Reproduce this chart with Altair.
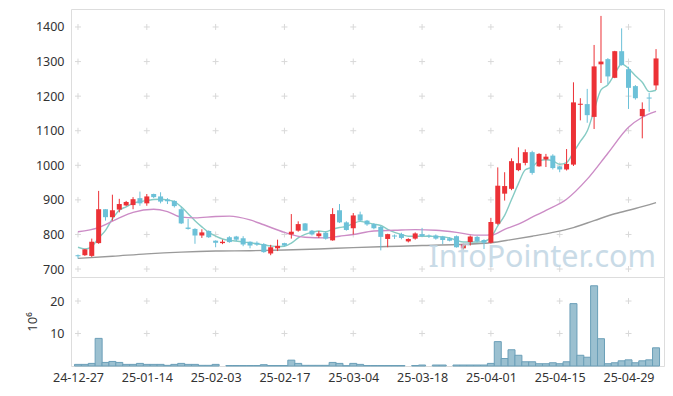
import altair as alt
import pandas as pd

# ---------------- data ----------------
dates = [
    "24-12-27", "24-12-30", "25-01-02", "25-01-03", "25-01-06", "25-01-07", "25-01-08", "25-01-09",
    "25-01-10", "25-01-13", "25-01-14", "25-01-15", "25-01-16", "25-01-17", "25-01-20", "25-01-21",
    "25-01-22", "25-01-23", "25-01-24", "25-01-31", "25-02-03", "25-02-04", "25-02-05", "25-02-06",
    "25-02-07", "25-02-10", "25-02-11", "25-02-12", "25-02-13", "25-02-14", "25-02-17", "25-02-18",
    "25-02-19", "25-02-20", "25-02-21", "25-02-24", "25-02-25", "25-02-26", "25-02-27", "25-02-28",
    "25-03-04", "25-03-05", "25-03-06", "25-03-07", "25-03-10", "25-03-11", "25-03-12", "25-03-13",
    "25-03-14", "25-03-17", "25-03-18", "25-03-19", "25-03-20", "25-03-21", "25-03-24", "25-03-25",
    "25-03-26", "25-03-27", "25-03-28", "25-03-31", "25-04-01", "25-04-02", "25-04-03", "25-04-04",
    "25-04-07", "25-04-08", "25-04-09", "25-04-10", "25-04-11", "25-04-14", "25-04-15", "25-04-16",
    "25-04-17", "25-04-18", "25-04-21", "25-04-22", "25-04-23", "25-04-24", "25-04-25", "25-04-28",
    "25-04-29", "25-04-30", "25-05-02", "25-05-07", "25-05-08",
]
opens = [740, 740, 738, 775, 873, 850, 872, 884, 885, 905, 890, 917, 910, 901, 897, 873, 820, 816, 797, 810,
         782, 775, 792, 794, 789, 779, 776, 772, 745, 760, 775, 800, 811, 832, 811, 795, 805, 783, 870, 835,
         818, 858, 840, 830, 822, 787, 797, 801, 780, 788, 801, 797, 797, 794, 789, 795, 760, 778, 793, 784,
         776, 831, 918, 932, 986, 1007, 1038, 997, 1017, 1028, 997, 988, 1002, 1175, 1177, 1140, 1292, 1307, 1253, 1330,
         1278, 1229, 1142, 1196, 1231]
highs = [742, 758, 788, 926, 873, 915, 903, 897, 908, 924, 917, 918, 922, 905, 899, 880, 845, 818, 815, 812,
         783, 785, 795, 796, 795, 780, 780, 775, 770, 785, 776, 859, 838, 833, 813, 810, 808, 876, 888, 838,
         862, 866, 842, 833, 825, 802, 800, 805, 789, 806, 819, 800, 800, 796, 792, 797, 773, 797, 796, 786,
         848, 994, 980, 1020, 1052, 1046, 1042, 1035, 1033, 1032, 998, 1047, 1240, 1194, 1221, 1348, 1432, 1310, 1331, 1396,
         1285, 1232, 1182, 1209, 1336]
lows = [730, 738, 735, 773, 840, 840, 864, 882, 873, 883, 883, 905, 890, 888, 878, 830, 814, 773, 790, 790,
        763, 772, 776, 780, 766, 760, 767, 747, 740, 752, 766, 788, 808, 810, 797, 790, 785, 782, 833, 811,
        800, 838, 825, 815, 754, 763, 787, 786, 777, 785, 793, 790, 785, 772, 780, 762, 757, 768, 777, 758,
        774, 828, 898, 928, 983, 1000, 973, 996, 995, 988, 980, 985, 998, 1130, 1123, 1105, 1238, 1235, 1252, 1288,
        1163, 1190, 1078, 1155, 1218]
closes = [737, 757, 779, 873, 850, 870, 888, 894, 902, 890, 910, 908, 895, 896, 882, 832, 816, 797, 806, 792,
          776, 779, 778, 785, 771, 768, 771, 749, 763, 767, 768, 808, 830, 811, 800, 803, 788, 859, 835, 813,
          855, 840, 829, 818, 793, 801, 794, 790, 787, 803, 795, 795, 788, 784, 782, 763, 771, 794, 780, 776,
          836, 941, 940, 1012, 1006, 1038, 978, 1033, 1025, 992, 988, 1004, 1182, 1178, 1145, 1286, 1300, 1257, 1330, 1290,
          1224, 1194, 1163, 1193, 1309]
volumes = [0.5, 0.5, 0.8, 8.5, 1.1, 1.4, 1.1, 0.5, 0.5, 0.8, 0.5, 0.5, 0.5, 0.2, 0.5, 0.8, 0.5, 0.5, 0.2, 0.2,
           0.5, 0.0, 0.15, 0.15, 0.15, 0.15, 0.15, 0.4, 0.15, 0.15, 0.15, 1.8, 0.8, 0.2, 0.2, 0.2, 0.2, 1.1, 0.8, 0.1,
           0.8, 0.5, 0.15, 0.15, 0.15, 0.15, 0.15, 0.15, 0.0, 0.15, 0.3, 0.0, 0.3, 0.3, 0.0, 0.3, 0.3, 0.3, 0.3, 0.3,
           0.8, 7.5, 2.3, 5.0, 3.3, 1.3, 1.3, 0.7, 0.7, 1.0, 0.7, 1.3, 19.2, 3.3, 2.7, 24.7, 8.4, 0.7, 1.0, 1.6,
           1.9, 1.0, 1.6, 1.9, 5.6]
ma5 = [763, 758, 765, 790, 812, 845, 870, 880, 890, 895, 898, 901, 902, 900, 895, 880, 860, 840, 822, 806,
       795, 787, 783, 781, 778, 776, 773, 770, 767, 765, 766, 775, 790, 800, 806, 810, 808, 815, 820, 823,
       832, 838, 834, 830, 826, 815, 806, 800, 795, 795, 795, 795, 794, 793, 790, 783, 778, 778, 778, 780,
       791, 825, 855, 901, 947, 987, 995, 1013, 1016, 1013, 1003, 1008, 1038, 1069, 1099, 1159, 1218, 1233, 1264, 1293,
       1280, 1259, 1240, 1213, 1217]
ma20_idx = [0, 3, 6, 8, 11, 13, 15, 17, 20, 22, 25, 27, 30, 33, 36, 38, 40, 43, 46, 49, 52, 55, 58, 60,
            62, 64, 66, 68, 71, 74, 77, 80, 82, 84]
ma20_val = [808, 820, 848, 864, 873, 866, 850, 848, 852, 853, 842, 828, 806, 792, 790, 795, 800, 810, 812, 814,
            812, 806, 798, 798, 815, 830, 850, 870, 902, 960, 1035, 1110, 1139, 1156]
ma60_idx = [0, 5, 10, 15, 20, 25, 30, 35, 40, 45, 50, 55, 60, 63, 66, 69, 72, 75, 78, 81, 84]
ma60_val = [731, 737, 744, 749, 752, 753, 755, 758, 762, 765, 768, 771, 776, 785, 795, 806, 820, 840, 860, 875, 892]

price_ticks = [700, 800, 900, 1000, 1100, 1200, 1300, 1400]
vol_ticks = [10, 20]
label_idx = [0, 10, 20, 30, 40, 50, 60, 70, 80]

# ---------------- styling ----------------
RED = "#ec3136"
BLUE = "#6cc1d8"
TEXT = "#333333"
FONT = "Noto Sans"
GRIDC = "#d9d9d9"
W = 593
H_PRICE = 268
H_VOL = 89
X_DOMAIN = [-0.29, 84.43]

df = pd.DataFrame({
    "i": list(range(len(dates))), "date": dates, "open": opens, "high": highs,
    "low": lows, "close": closes, "vol": volumes,
})

ma_df = pd.concat([
    pd.DataFrame({"i": list(range(len(ma5))), "v": ma5, "s": "MA5"}),
    pd.DataFrame({"i": ma20_idx, "v": ma20_val, "s": "MA20"}),
    pd.DataFrame({"i": ma60_idx, "v": ma60_val, "s": "MA60"}),
])

price_grid = pd.DataFrame([(x, y) for x in label_idx for y in price_ticks], columns=["i", "y"])
vol_grid = pd.DataFrame([(x, y) for x in label_idx for y in vol_ticks], columns=["i", "y"])

xscale = alt.Scale(domain=X_DOMAIN, nice=False, zero=False)
x_plain = alt.X("i:Q", scale=xscale, axis=None)
yscale = alt.Scale(domain=[677, 1452], nice=False, zero=False)
vscale = alt.Scale(domain=[0, 27.4], nice=False, zero=True)

price_axis = alt.Axis(values=price_ticks, format="d", grid=False, ticks=False, domain=False,
                      labelFontSize=12.5, labelColor=TEXT, labelPadding=7, minExtent=57,
                      labelFont=FONT, labelOverlap=False, title=None)

cross_shape = "M-1,0L1,0M0,-1L0,1"
candle_color = alt.condition("datum.close >= datum.open", alt.value(RED), alt.value(BLUE))

crosses = alt.Chart(price_grid).mark_point(
    shape=cross_shape, size=36, filled=False, strokeWidth=1, stroke=GRIDC, color=GRIDC, opacity=1
).encode(x=x_plain, y=alt.Y("y:Q", scale=yscale, axis=price_axis))

lines = alt.Chart(ma_df).mark_line(interpolate="monotone", strokeWidth=1.4).encode(
    x=x_plain,
    y=alt.Y("v:Q", scale=yscale, axis=price_axis),
    color=alt.Color("s:N", scale=alt.Scale(domain=["MA5", "MA20", "MA60"],
                                           range=["#86cbc4", "#cc8cc6", "#9a9a9a"]), legend=None),
)

base = alt.Chart(df)
wicks = base.mark_rule(strokeWidth=1).encode(
    x=x_plain, y=alt.Y("low:Q", scale=yscale, axis=price_axis), y2="high:Q", color=candle_color)
bodies = base.mark_bar(size=5).encode(
    x=x_plain, y=alt.Y("open:Q", scale=yscale, axis=price_axis), y2="close:Q", color=candle_color)

watermark = alt.Chart(pd.DataFrame({"t": ["InfoPointer.com"]})).mark_text(
    align="right", baseline="alphabetic", fontSize=30.5, font=FONT, color="#bcd3e2", opacity=0.8
).encode(text="t:N", x=alt.value(W - 8), y=alt.value(H_PRICE - 10))

price = alt.layer(crosses, lines, wicks, bodies, watermark).properties(width=W, height=H_PRICE)

label_expr = "[" + ",".join("'%s'" % d for d in dates) + "][datum.value]"
x_axis = alt.Axis(values=label_idx, labelExpr=label_expr, grid=False, ticks=False, domain=False,
                  labelFontSize=12.5, labelColor=TEXT, labelPadding=5, labelFlush=False,
                  labelOverlap=False, labelFont=FONT, title=None)
vol_axis = alt.Axis(values=vol_ticks, format="d", grid=False, ticks=False, domain=False,
                    labelFontSize=12.5, labelColor=TEXT, labelPadding=7, minExtent=0, labelFont=FONT,
                    labelOverlap=False,
                    title="10⁶", titleFontSize=13, titleFontWeight="normal", titleColor=TEXT,
                    titleFont=FONT, titlePadding=10)

vol_crosses = alt.Chart(vol_grid).mark_point(
    shape=cross_shape, size=36, filled=False, strokeWidth=1, stroke=GRIDC, color=GRIDC, opacity=1
).encode(x=alt.X("i:Q", scale=xscale, axis=x_axis),
         y=alt.Y("y:Q", scale=vscale, axis=vol_axis))

vol_bars = alt.Chart(df).transform_filter("datum.vol > 0").mark_bar(
    size=7, color="#9bc0d0", stroke="#6b9fb8", strokeWidth=1
).encode(x=alt.X("i:Q", scale=xscale, axis=x_axis), y=alt.Y("vol:Q", scale=vscale, axis=vol_axis))

volume = alt.layer(vol_crosses, vol_bars).properties(width=W, height=H_VOL)

chart = alt.vconcat(price, volume, spacing=0, bounds="flush").properties(
    padding={"left": 5, "top": 0, "right": 0, "bottom": 0}
).configure_view(stroke="#e4e4e4").configure(background="white")

chart.save("out.html", embed_options={"renderer": "svg", "actions": False})
